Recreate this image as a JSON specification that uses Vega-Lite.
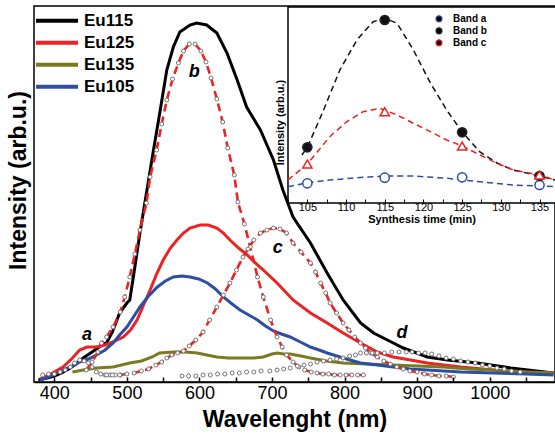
{
  "$schema": "https://vega.github.io/schema/vega-lite/v6.json",
  "width": 521,
  "height": 376,
  "autosize": {"type": "none"},
  "padding": {"left": 34, "top": 6, "right": 0, "bottom": 56},
  "background": "white",
  "config": {
    "font": "Liberation Sans",
    "view": {"stroke": "black", "strokeWidth": 1.5},
    "axis": {"grid": false, "labelColor": "black", "titleColor": "black", "tickColor": "black", "domainColor": "black"}
  },
  "datasets": {
    "curves": [
      {"s":"Eu115","nm":378,"I":2},{"s":"Eu115","nm":390,"I":4},{"s":"Eu115","nm":400,"I":6},{"s":"Eu115","nm":410,"I":9},{"s":"Eu115","nm":420,"I":13},{"s":"Eu115","nm":430,"I":18},{"s":"Eu115","nm":440,"I":24},{"s":"Eu115","nm":450,"I":29},{"s":"Eu115","nm":460,"I":34},{"s":"Eu115","nm":467,"I":38},{"s":"Eu115","nm":472,"I":39},{"s":"Eu115","nm":480,"I":50},{"s":"Eu115","nm":490,"I":69},{"s":"Eu115","nm":500,"I":79},{"s":"Eu115","nm":504,"I":82},{"s":"Eu115","nm":511,"I":115},{"s":"Eu115","nm":518,"I":149},{"s":"Eu115","nm":527,"I":189},{"s":"Eu115","nm":536,"I":229},{"s":"Eu115","nm":546,"I":272},{"s":"Eu115","nm":555,"I":312},{"s":"Eu115","nm":564,"I":335},{"s":"Eu115","nm":573,"I":350},{"s":"Eu115","nm":587,"I":357},{"s":"Eu115","nm":596,"I":359},{"s":"Eu115","nm":610,"I":357},{"s":"Eu115","nm":624,"I":349},{"s":"Eu115","nm":638,"I":329},{"s":"Eu115","nm":652,"I":302},{"s":"Eu115","nm":665,"I":275},{"s":"Eu115","nm":684,"I":252},{"s":"Eu115","nm":702,"I":222},{"s":"Eu115","nm":715,"I":192},{"s":"Eu115","nm":729,"I":165},{"s":"Eu115","nm":753,"I":139},{"s":"Eu115","nm":776,"I":109},{"s":"Eu115","nm":798,"I":82},{"s":"Eu115","nm":822,"I":59},{"s":"Eu115","nm":840,"I":49},{"s":"Eu115","nm":859,"I":42},{"s":"Eu115","nm":881,"I":34},{"s":"Eu115","nm":914,"I":25},{"s":"Eu115","nm":942,"I":22},{"s":"Eu115","nm":983,"I":19},{"s":"Eu115","nm":1029,"I":14},{"s":"Eu115","nm":1088,"I":9},
      {"s":"Eu125","nm":380,"I":3},{"s":"Eu125","nm":395,"I":8},{"s":"Eu125","nm":412,"I":15},{"s":"Eu125","nm":425,"I":24},{"s":"Eu125","nm":435,"I":32},{"s":"Eu125","nm":445,"I":35},{"s":"Eu125","nm":458,"I":35},{"s":"Eu125","nm":470,"I":37},{"s":"Eu125","nm":477,"I":39},{"s":"Eu125","nm":495,"I":45},{"s":"Eu125","nm":505,"I":52},{"s":"Eu125","nm":514,"I":62},{"s":"Eu125","nm":523,"I":77},{"s":"Eu125","nm":532,"I":92},{"s":"Eu125","nm":541,"I":108},{"s":"Eu125","nm":550,"I":122},{"s":"Eu125","nm":560,"I":134},{"s":"Eu125","nm":569,"I":142},{"s":"Eu125","nm":578,"I":149},{"s":"Eu125","nm":587,"I":154},{"s":"Eu125","nm":601,"I":157},{"s":"Eu125","nm":612,"I":157},{"s":"Eu125","nm":624,"I":154},{"s":"Eu125","nm":633,"I":149},{"s":"Eu125","nm":642,"I":142},{"s":"Eu125","nm":654,"I":134},{"s":"Eu125","nm":666,"I":127},{"s":"Eu125","nm":677,"I":119},{"s":"Eu125","nm":688,"I":112},{"s":"Eu125","nm":707,"I":99},{"s":"Eu125","nm":729,"I":82},{"s":"Eu125","nm":753,"I":69},{"s":"Eu125","nm":776,"I":59},{"s":"Eu125","nm":798,"I":49},{"s":"Eu125","nm":822,"I":39},{"s":"Eu125","nm":845,"I":30},{"s":"Eu125","nm":867,"I":25},{"s":"Eu125","nm":891,"I":22},{"s":"Eu125","nm":914,"I":19},{"s":"Eu125","nm":960,"I":15},{"s":"Eu125","nm":1005,"I":12},{"s":"Eu125","nm":1052,"I":10},{"s":"Eu125","nm":1088,"I":9},
      {"s":"Eu135","nm":425,"I":10},{"s":"Eu135","nm":440,"I":12},{"s":"Eu135","nm":458,"I":14},{"s":"Eu135","nm":481,"I":15},{"s":"Eu135","nm":504,"I":19},{"s":"Eu135","nm":520,"I":21},{"s":"Eu135","nm":535,"I":25},{"s":"Eu135","nm":545,"I":29},{"s":"Eu135","nm":564,"I":30},{"s":"Eu135","nm":580,"I":30},{"s":"Eu135","nm":597,"I":29},{"s":"Eu135","nm":610,"I":27},{"s":"Eu135","nm":624,"I":25},{"s":"Eu135","nm":640,"I":24},{"s":"Eu135","nm":660,"I":24},{"s":"Eu135","nm":675,"I":24},{"s":"Eu135","nm":688,"I":25},{"s":"Eu135","nm":700,"I":28},{"s":"Eu135","nm":707,"I":29},{"s":"Eu135","nm":716,"I":28},{"s":"Eu135","nm":725,"I":28},{"s":"Eu135","nm":740,"I":26},{"s":"Eu135","nm":753,"I":24},{"s":"Eu135","nm":775,"I":21},{"s":"Eu135","nm":798,"I":19},{"s":"Eu135","nm":830,"I":18},{"s":"Eu135","nm":867,"I":17},{"s":"Eu135","nm":900,"I":16},{"s":"Eu135","nm":936,"I":15},{"s":"Eu135","nm":970,"I":13},{"s":"Eu135","nm":1005,"I":12},{"s":"Eu135","nm":1050,"I":10},{"s":"Eu135","nm":1088,"I":9},
      {"s":"Eu105","nm":380,"I":2},{"s":"Eu105","nm":395,"I":6},{"s":"Eu105","nm":412,"I":12},{"s":"Eu105","nm":425,"I":16},{"s":"Eu105","nm":435,"I":20},{"s":"Eu105","nm":447,"I":23},{"s":"Eu105","nm":458,"I":27},{"s":"Eu105","nm":470,"I":32},{"s":"Eu105","nm":481,"I":39},{"s":"Eu105","nm":490,"I":47},{"s":"Eu105","nm":500,"I":55},{"s":"Eu105","nm":509,"I":65},{"s":"Eu105","nm":518,"I":75},{"s":"Eu105","nm":530,"I":86},{"s":"Eu105","nm":542,"I":95},{"s":"Eu105","nm":553,"I":101},{"s":"Eu105","nm":564,"I":105},{"s":"Eu105","nm":576,"I":106},{"s":"Eu105","nm":587,"I":105},{"s":"Eu105","nm":599,"I":103},{"s":"Eu105","nm":611,"I":99},{"s":"Eu105","nm":622,"I":93},{"s":"Eu105","nm":633,"I":85},{"s":"Eu105","nm":645,"I":78},{"s":"Eu105","nm":656,"I":72},{"s":"Eu105","nm":668,"I":67},{"s":"Eu105","nm":680,"I":62},{"s":"Eu105","nm":691,"I":56},{"s":"Eu105","nm":702,"I":51},{"s":"Eu105","nm":713,"I":48},{"s":"Eu105","nm":725,"I":45},{"s":"Eu105","nm":739,"I":40},{"s":"Eu105","nm":753,"I":35},{"s":"Eu105","nm":765,"I":32},{"s":"Eu105","nm":776,"I":29},{"s":"Eu105","nm":798,"I":24},{"s":"Eu105","nm":822,"I":19},{"s":"Eu105","nm":845,"I":17},{"s":"Eu105","nm":867,"I":15},{"s":"Eu105","nm":890,"I":13},{"s":"Eu105","nm":914,"I":12},{"s":"Eu105","nm":960,"I":10},{"s":"Eu105","nm":1005,"I":9},{"s":"Eu105","nm":1050,"I":8},{"s":"Eu105","nm":1088,"I":7}
    ],
    "fits": [
      {"band":"a","nm":384,"I":7},{"band":"a","nm":392,"I":8},{"band":"a","nm":400,"I":8},{"band":"a","nm":408,"I":10},{"band":"a","nm":415,"I":12},{"band":"a","nm":422,"I":15},{"band":"a","nm":428,"I":19},{"band":"a","nm":435,"I":22},{"band":"a","nm":441,"I":21},{"band":"a","nm":447,"I":19},{"band":"a","nm":452,"I":15},{"band":"a","nm":458,"I":10},{"band":"a","nm":464,"I":8},{"band":"a","nm":470,"I":7},{"band":"a","nm":477,"I":7},{"band":"a","nm":484,"I":7},{"band":"a","nm":491,"I":7},
      {"band":"b","nm":444,"I":12},{"band":"b","nm":452,"I":20},{"band":"b","nm":460,"I":30},{"band":"b","nm":465,"I":39},{"band":"b","nm":472,"I":45},{"band":"b","nm":481,"I":55},{"band":"b","nm":491,"I":70},{"band":"b","nm":497,"I":85},{"band":"b","nm":504,"I":105},{"band":"b","nm":511,"I":128},{"band":"b","nm":518,"I":152},{"band":"b","nm":527,"I":179},{"band":"b","nm":532,"I":205},{"band":"b","nm":541,"I":232},{"band":"b","nm":548,"I":258},{"band":"b","nm":555,"I":282},{"band":"b","nm":563,"I":303},{"band":"b","nm":571,"I":319},{"band":"b","nm":578,"I":331},{"band":"b","nm":586,"I":338},{"band":"b","nm":594,"I":338},{"band":"b","nm":602,"I":331},{"band":"b","nm":609,"I":320},{"band":"b","nm":616,"I":304},{"band":"b","nm":624,"I":283},{"band":"b","nm":632,"I":260},{"band":"b","nm":639,"I":234},{"band":"b","nm":648,"I":207},{"band":"b","nm":653,"I":180},{"band":"b","nm":662,"I":158},{"band":"b","nm":670,"I":135},{"band":"b","nm":680,"I":105},{"band":"b","nm":688,"I":85},{"band":"b","nm":698,"I":62},{"band":"b","nm":707,"I":45},{"band":"b","nm":714,"I":35},{"band":"b","nm":720,"I":27},{"band":"b","nm":729,"I":20},{"band":"b","nm":737,"I":15},{"band":"b","nm":745,"I":12},{"band":"b","nm":754,"I":10},{"band":"b","nm":762,"I":9},{"band":"b","nm":770,"I":8},{"band":"b","nm":778,"I":8},{"band":"b","nm":786,"I":7},{"band":"b","nm":794,"I":7},{"band":"b","nm":802,"I":7},{"band":"b","nm":810,"I":7},{"band":"b","nm":818,"I":7},{"band":"b","nm":826,"I":7},
      {"band":"c","nm":472,"I":7},{"band":"c","nm":480,"I":7},{"band":"c","nm":490,"I":7},{"band":"c","nm":500,"I":8},{"band":"c","nm":510,"I":9},{"band":"c","nm":520,"I":11},{"band":"c","nm":530,"I":13},{"band":"c","nm":540,"I":17},{"band":"c","nm":548,"I":20},{"band":"c","nm":555,"I":24},{"band":"c","nm":562,"I":27},{"band":"c","nm":570,"I":29},{"band":"c","nm":578,"I":31},{"band":"c","nm":586,"I":36},{"band":"c","nm":595,"I":42},{"band":"c","nm":605,"I":50},{"band":"c","nm":614,"I":62},{"band":"c","nm":624,"I":75},{"band":"c","nm":633,"I":87},{"band":"c","nm":642,"I":99},{"band":"c","nm":651,"I":112},{"band":"c","nm":660,"I":125},{"band":"c","nm":667,"I":133},{"band":"c","nm":675,"I":142},{"band":"c","nm":684,"I":149},{"band":"c","nm":693,"I":152},{"band":"c","nm":702,"I":154},{"band":"c","nm":711,"I":153},{"band":"c","nm":720,"I":149},{"band":"c","nm":729,"I":139},{"band":"c","nm":740,"I":130},{"band":"c","nm":753,"I":119},{"band":"c","nm":760,"I":110},{"band":"c","nm":767,"I":99},{"band":"c","nm":774,"I":89},{"band":"c","nm":780,"I":79},{"band":"c","nm":789,"I":69},{"band":"c","nm":798,"I":59},{"band":"c","nm":806,"I":52},{"band":"c","nm":814,"I":45},{"band":"c","nm":822,"I":39},{"band":"c","nm":829,"I":34},{"band":"c","nm":836,"I":29},{"band":"c","nm":845,"I":25},{"band":"c","nm":854,"I":21},{"band":"c","nm":863,"I":18},{"band":"c","nm":872,"I":15},{"band":"c","nm":881,"I":13},{"band":"c","nm":890,"I":11},{"band":"c","nm":900,"I":10},{"band":"c","nm":910,"I":8},{"band":"c","nm":920,"I":7},{"band":"c","nm":930,"I":6},{"band":"c","nm":940,"I":6},{"band":"c","nm":950,"I":5},
      {"band":"d","nm":576,"I":6},{"band":"d","nm":585,"I":6},{"band":"d","nm":595,"I":6},{"band":"d","nm":605,"I":7},{"band":"d","nm":615,"I":7},{"band":"d","nm":625,"I":8},{"band":"d","nm":635,"I":8},{"band":"d","nm":645,"I":9},{"band":"d","nm":655,"I":9},{"band":"d","nm":665,"I":10},{"band":"d","nm":675,"I":10},{"band":"d","nm":685,"I":11},{"band":"d","nm":697,"I":11},{"band":"d","nm":707,"I":12},{"band":"d","nm":716,"I":13},{"band":"d","nm":725,"I":14},{"band":"d","nm":735,"I":16},{"band":"d","nm":744,"I":17},{"band":"d","nm":753,"I":18},{"band":"d","nm":762,"I":20},{"band":"d","nm":771,"I":21},{"band":"d","nm":780,"I":22},{"band":"d","nm":789,"I":23},{"band":"d","nm":798,"I":24},{"band":"d","nm":807,"I":26},{"band":"d","nm":815,"I":27},{"band":"d","nm":822,"I":29},{"band":"d","nm":830,"I":29},{"band":"d","nm":838,"I":29},{"band":"d","nm":845,"I":29},{"band":"d","nm":855,"I":29},{"band":"d","nm":865,"I":30},{"band":"d","nm":875,"I":30},{"band":"d","nm":885,"I":30},{"band":"d","nm":893,"I":30},{"band":"d","nm":902,"I":29},{"band":"d","nm":911,"I":29},{"band":"d","nm":920,"I":28},{"band":"d","nm":930,"I":26},{"band":"d","nm":940,"I":24},{"band":"d","nm":950,"I":23},{"band":"d","nm":960,"I":21},{"band":"d","nm":970,"I":20},{"band":"d","nm":980,"I":19},{"band":"d","nm":990,"I":17},{"band":"d","nm":1000,"I":16},{"band":"d","nm":1010,"I":14},{"band":"d","nm":1020,"I":13},{"band":"d","nm":1030,"I":11},{"band":"d","nm":1042,"I":10}
    ],
    "labels": [
      {"nm":445,"I":47,"t":"a"},{"nm":593,"I":310,"t":"b"},{"nm":708,"I":134,"t":"c"},{"nm":879,"I":49,"t":"d"}
    ],
    "insetFit": [
      {"b":"Band b","t":104.3,"v":48},{"b":"Band b","t":105,"v":55.7},{"b":"Band b","t":107.1,"v":93},{"b":"Band b","t":109.2,"v":133},{"b":"Band b","t":111.4,"v":163},{"b":"Band b","t":113.5,"v":181.3},{"b":"Band b","t":115,"v":184.7},{"b":"Band b","t":116.6,"v":179.7},{"b":"Band b","t":118.7,"v":153},{"b":"Band b","t":120.9,"v":120},{"b":"Band b","t":123,"v":93},{"b":"Band b","t":125,"v":71},{"b":"Band b","t":127.3,"v":51},{"b":"Band b","t":129.5,"v":40},{"b":"Band b","t":131.6,"v":33},{"b":"Band b","t":135,"v":27},{"b":"Band b","t":137,"v":23},
      {"b":"Band c","t":102.5,"v":23},{"b":"Band c","t":105,"v":39},{"b":"Band c","t":107.9,"v":66.3},{"b":"Band c","t":110.1,"v":81.3},{"b":"Band c","t":112.2,"v":91.3},{"b":"Band c","t":114.4,"v":94.7},{"b":"Band c","t":116.6,"v":88},{"b":"Band c","t":118.7,"v":79.7},{"b":"Band c","t":120.9,"v":71.3},{"b":"Band c","t":123,"v":63},{"b":"Band c","t":125,"v":57},{"b":"Band c","t":127.3,"v":48},{"b":"Band c","t":129.5,"v":39.7},{"b":"Band c","t":131.6,"v":33},{"b":"Band c","t":135,"v":28},{"b":"Band c","t":137,"v":23},
      {"b":"Band a","t":102.5,"v":16.3},{"b":"Band a","t":105,"v":20.3},{"b":"Band a","t":107.9,"v":23},{"b":"Band a","t":112.2,"v":25.7},{"b":"Band a","t":115,"v":27},{"b":"Band a","t":118.7,"v":27},{"b":"Band a","t":123,"v":24.7},{"b":"Band a","t":127.3,"v":21.3},{"b":"Band a","t":131.6,"v":18},{"b":"Band a","t":137,"v":16.3}
    ],
    "insetPts": [
      {"b":"Band a","t":105,"v":19.7},{"b":"Band a","t":115,"v":25.3},{"b":"Band a","t":125,"v":25.7},{"b":"Band a","t":135,"v":18},
      {"b":"Band b","t":105,"v":55.7},{"b":"Band b","t":115,"v":183},{"b":"Band b","t":125,"v":70.7},{"b":"Band b","t":135,"v":27},
      {"b":"Band c","t":105,"v":39},{"b":"Band c","t":115,"v":91.3},{"b":"Band c","t":125,"v":57},{"b":"Band c","t":135,"v":28}
    ],
    "frame": [{"part": "inset"}]
  },
  "layer": [
    {
      "encoding": {
        "x": {"field": "nm", "type": "quantitative", "scale": {"domain": [372, 1090], "nice": false, "zero": false},
          "axis": {"values": [400,450,500,550,600,650,700,750,800,850,900,950,1000,1050], "format": "d", "labelExpr": "datum.value % 100 === 0 ? datum.label : ''", "tickSize": -5, "tickWidth": 1.5, "domainWidth": 1.5, "labelFontSize": 18, "labelPadding": 7, "title": "Wavelenght (nm)", "titleFontSize": 23, "titleFontWeight": "bold", "titlePadding": 6, "zindex": 1}},
        "y": {"field": "I", "type": "quantitative", "scale": {"domain": [0, 376], "nice": false, "zero": false},
          "axis": {"labels": false, "ticks": false, "domain": false, "title": "Intensity (arb.u.)", "titleFontSize": 23, "titleFontWeight": "bold", "titlePadding": 4, "titleY": 174}}
      },
      "layer": [
        {
          "data": {"name": "curves"},
          "mark": {"type": "line", "strokeWidth": 3},
          "encoding": {
            "color": {"field": "s", "type": "nominal",
              "scale": {"domain": ["Eu115", "Eu125", "Eu135", "Eu105"], "range": ["#000000", "#ee2222", "#7b7a22", "#2c4ea3"]},
              "legend": {"title": null, "orient": "none", "legendX": 0, "legendY": 4, "symbolType": "stroke", "symbolSize": 1764, "symbolStrokeWidth": 4, "clipHeight": 21.4, "rowPadding": 0, "labelFontSize": 17, "labelFontWeight": "bold", "labelColor": "black", "labelOffset": 4, "padding": 0}}
          }
        },
        {
          "data": {"name": "fits"},
          "transform": [{"filter": "datum.band == 'b' || datum.band == 'c'"}],
          "mark": {"type": "line", "color": "#ee2222", "strokeWidth": 2.6, "strokeDash": [8, 5]},
          "encoding": {"detail": {"field": "band"}}
        },
        {
          "data": {"name": "fits"},
          "mark": {"type": "point", "shape": "circle", "filled": true, "fill": "white", "stroke": "#666666", "strokeWidth": 0.9, "size": 16, "opacity": 1}
        },
        {
          "data": {"name": "labels"},
          "mark": {"type": "text", "fontSize": 18, "fontWeight": "bold", "fontStyle": "italic", "align": "center", "baseline": "middle", "color": "black"},
          "encoding": {"text": {"field": "t"}}
        }
      ]
    },
    {
      "data": {"name": "frame"},
      "mark": {"type": "rect", "fill": "white", "stroke": "black", "strokeWidth": 1.5},
      "encoding": {
        "x": {"datum": 102.5, "type": "quantitative", "scale": {"domain": [102.5, 137], "range": [254, 521], "nice": false, "zero": false}, "axis": null},
        "x2": {"datum": 140},
        "y": {"datum": 0, "type": "quantitative", "scale": {"domain": [0, 196], "range": [197, 1], "nice": false, "zero": false}, "axis": null},
        "y2": {"datum": 196}
      }
    },
    {
      "encoding": {
        "x": {"field": "t", "type": "quantitative", "scale": {"domain": [102.5, 137], "range": [254, 521], "nice": false, "zero": false},
          "axis": {"orient": "bottom", "offset": -179, "values": [102.5,105,107.5,110,112.5,115,117.5,120,122.5,125,127.5,130,132.5,135], "labelExpr": "datum.value % 5 === 0 ? datum.label : ''", "domain": false, "tickSize": -4, "tickWidth": 1, "labelFontSize": 11, "labelPadding": 2, "title": "Synthesis time (min)", "titleFontSize": 11, "titleFontWeight": "bold", "titlePadding": 1, "zindex": 1}},
        "y": {"field": "v", "type": "quantitative", "scale": {"domain": [0, 196], "range": [197, 1], "nice": false, "zero": false},
          "axis": {"orient": "left", "offset": -254, "labels": false, "ticks": false, "domain": false, "title": "Intensity (arb.u.)", "titleFontSize": 11, "titleFontWeight": "bold", "titlePadding": 3, "titleY": 116, "zindex": 1}}
      },
      "layer": [
        {
          "data": {"name": "insetFit"},
          "mark": {"type": "line", "strokeWidth": 1.5, "strokeDash": [6, 4]},
          "encoding": {
            "stroke": {"field": "b", "type": "nominal", "scale": {"domain": ["Band a", "Band b", "Band c"], "range": ["#2c4ea3", "#111111", "#ee2222"]}, "legend": null}
          }
        },
        {
          "data": {"name": "insetPts"},
          "mark": {"type": "point", "filled": false, "size": 85, "strokeWidth": 1.5, "opacity": 1},
          "encoding": {
            "color": {"field": "b", "type": "nominal", "scale": {"domain": ["Band a", "Band b", "Band c"], "range": ["#2c4ea3", "#222222", "#ee2222"]},
              "legend": {"title": null, "orient": "none", "legendX": 400, "legendY": 7, "symbolSize": 36, "symbolStrokeWidth": 1.2, "clipHeight": 11.7, "rowPadding": 0, "labelFontSize": 10, "labelFontWeight": "bold", "labelColor": "black", "labelOffset": 9, "padding": 0,
                "encode": {"symbols": {"update": {
                  "shape": {"signal": "datum.value === 'Band c' ? 'triangle-up' : 'circle'"},
                  "fill": {"signal": "datum.value === 'Band b' ? '#111111' : 'white'"},
                  "fillOpacity": {"value": 1}
                }}}}},
            "shape": {"field": "b", "type": "nominal", "scale": {"domain": ["Band a", "Band b", "Band c"], "range": ["circle", "circle", "triangle-up"]}, "legend": null},
            "fill": {"field": "b", "type": "nominal", "scale": {"domain": ["Band a", "Band b", "Band c"], "range": ["white", "#111111", "white"]}, "legend": null}
          }
        }
      ]
    }
  ],
  "resolve": {
    "scale": {"x": "independent", "y": "independent", "color": "independent"},
    "axis": {"x": "independent", "y": "independent"},
    "legend": {"color": "independent"}
  }
}
